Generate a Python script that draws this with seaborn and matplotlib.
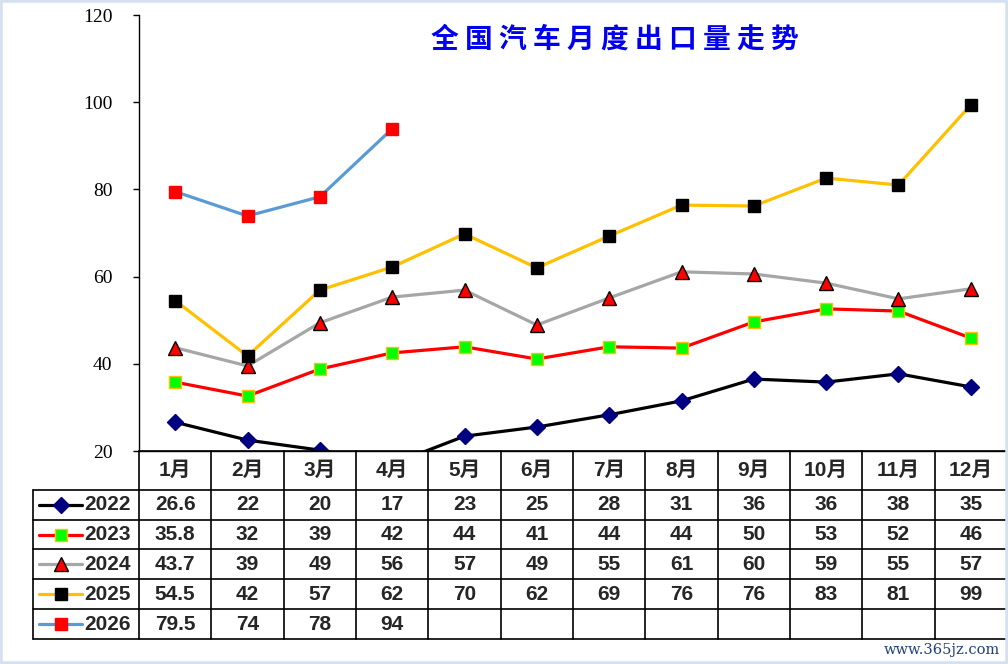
import numpy as np
import pandas as pd
import matplotlib
matplotlib.use("Agg")
import matplotlib.pyplot as plt
import seaborn as sns
from matplotlib.patches import Rectangle

# 数据
months = ["1月", "2月", "3月", "4月", "5月", "6月", "7月", "8月", "9月", "10月", "11月", "12月"]
years = ["2022", "2023", "2024", "2025", "2026"]
v2022 = [26.6, 22.5, 20.2, 17, 23.4, 25.5, 28.3, 31.5, 36.5, 35.8, 37.7, 34.7]
v2023 = [35.8, 32.6, 38.8, 42.5, 43.9, 41.1, 43.9, 43.6, 49.6, 52.6, 52.1, 45.9]
v2024 = [43.7, 39.5, 49.4, 55.3, 56.9, 48.9, 55.1, 61.1, 60.6, 58.5, 54.9, 57.2]
v2025 = [54.5, 41.8, 56.9, 62.2, 69.8, 62.0, 69.3, 76.4, 76.2, 82.6, 81.0, 99.4]
v2026 = [79.5, 73.9, 78.3, 93.9]
t2022 = ["26.6", "22", "20", "17", "23", "25", "28", "31", "36", "36", "38", "35"]
t2023 = ["35.8", "32", "39", "42", "44", "41", "44", "44", "50", "53", "52", "46"]
t2024 = ["43.7", "39", "49", "56", "57", "49", "55", "61", "60", "59", "55", "57"]
t2025 = ["54.5", "42", "57", "62", "70", "62", "69", "76", "76", "83", "81", "99"]
t2026 = ["79.5", "74", "78", "94"]

values = dict(zip(years, [v2022, v2023, v2024, v2025, v2026]))
labels = dict(zip(years, [t2022, t2023, t2024, t2025, t2026]))

rows = []
for y in years:
    for i, v in enumerate(values[y]):
        rows.append({"year": y, "pos": i, "value": v})
df = pd.DataFrame(rows)

# 样式
styles = {
    "2022": dict(color="black", marker="D", markerfacecolor="#000080", markeredgecolor="#000080", markersize=8),
    "2023": dict(color="#ff0000", marker="s", markerfacecolor="#00ff00", markeredgecolor="#ffc000", markersize=9),
    "2024": dict(color="#a6a6a6", marker="^", markerfacecolor="#ff0000", markeredgecolor="black", markersize=9.5),
    "2025": dict(color="#ffc000", marker="s", markerfacecolor="black", markeredgecolor="black", markersize=9),
    "2026": dict(color="#5b9bd5", marker="s", markerfacecolor="#ff0000", markeredgecolor="#ff0000", markersize=9),
}

sns.set_style("white")
plt.rcParams["font.family"] = ["Liberation Sans", "Noto Sans CJK SC", "DejaVu Sans"]

W, H = 1008, 664
fig = plt.figure(figsize=(W / 100, H / 100), dpi=100)
fig.patch.set_facecolor("white")

# 布局（像素）
x0, x1 = 139, 1007
ytop, ybot = 15, 451
leg_x = 33
row_edges = [451, 490, 520, 549, 579, 609, 639]
col_edges = np.linspace(x0, x1, 13)

ax = fig.add_axes([x0 / W, 1 - ybot / H, (x1 - x0) / W, (ybot - ytop) / H])
for y in years:
    st = styles[y]
    sns.lineplot(data=df[df.year == y], x="pos", y="value", ax=ax,
                 linewidth=2.3, markeredgewidth=1, zorder=3, **st)
ax.set_xlim(-0.5, 11.5)
ax.set_ylim(20, 120)
ax.set_yticks(range(20, 121, 20))
ax.set_yticklabels([str(t) for t in range(20, 121, 20)], fontfamily="Liberation Serif", fontsize=14)
ax.set_xticks([])
ax.set_xlabel("")
ax.set_ylabel("")
ax.tick_params(axis="y", direction="out", length=4, width=1, pad=15, left=True, colors="black")
for s in ["top", "right"]:
    ax.spines[s].set_visible(False)
for s in ["left", "bottom"]:
    ax.spines[s].set_color("black")
    ax.spines[s].set_linewidth(1)
ax.patch.set_alpha(0)

# 标题
fig.text(615 / W, 1 - 40 / H, " ".join("全国汽车月度出口量走势"), color="#0000ee",
         fontsize=20, fontweight="bold", family=["Noto Sans CJK SC"], ha="center", va="center")

# 数据表
at = fig.add_axes([0, 0, 1, 1])
at.set_xlim(0, W)
at.set_ylim(H, 0)
at.axis("off")
at.patch.set_alpha(0)
lk = dict(color="black", lw=1.2)
for i, ye in enumerate(row_edges):
    at.plot([x0 if i == 0 else leg_x, x1], [ye, ye], **lk)
for xe in col_edges:
    at.plot([xe, xe], [row_edges[0], row_edges[-1]], **lk)
at.plot([leg_x, leg_x], [row_edges[1], row_edges[-1]], **lk)

fs = 15
hc = (row_edges[0] + row_edges[1]) / 2
for j, m in enumerate(months):
    cx = (col_edges[j] + col_edges[j + 1]) / 2
    at.text(cx, hc, m, ha="center", va="center", fontsize=fs, fontweight="bold")

for r, y in enumerate(years):
    yc = (row_edges[r + 1] + row_edges[r + 2]) / 2
    st = styles[y]
    at.plot([39, 82], [yc, yc], color=st["color"], lw=2.3)
    at.plot([60.5], [yc], linestyle="none", marker=st["marker"], markersize=st["markersize"],
            markerfacecolor=st["markerfacecolor"], markeredgecolor=st["markeredgecolor"], markeredgewidth=1)
    at.text(84, yc, y, ha="left", va="center", fontsize=fs, fontweight="bold")
    for j, t in enumerate(labels[y]):
        cx = (col_edges[j] + col_edges[j + 1]) / 2
        at.text(cx, yc, t, ha="center", va="center", fontsize=fs, fontweight="bold")

# 水印
at.text(1000, 650, "www.365jz.com", ha="right", va="center", fontsize=10.5,
        family="DejaVu Serif", color="#1f3f7f")

fig.patches.append(Rectangle((0, 0), 1, 1, transform=fig.transFigure, fill=False,
                             edgecolor="#d6e1f0", linewidth=4))

fig.savefig("out.png", dpi=100)
